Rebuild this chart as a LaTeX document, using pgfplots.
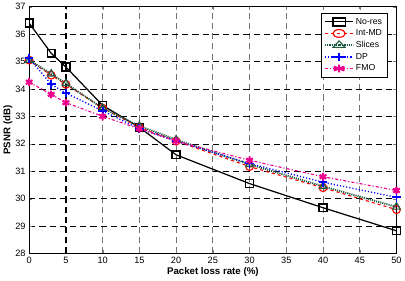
\documentclass[border=0pt]{standalone}
\usepackage{fontspec}
\setmainfont{Liberation Sans}
\usepackage{pgfplots}
\pgfplotsset{compat=1.18}
\definecolor{dkgreen}{RGB}{30,90,65}
\begin{document}
\begin{tikzpicture}
\begin{axis}[
  scale only axis,
  width=360pt, height=242pt,
  xmin=0, xmax=50, ymin=28, ymax=37,
  xtick={0,5,...,50}, ytick={28,...,37},
  /pgf/number format/assume math mode=true,
  tick label style={font=\fontsize{9}{10}\selectfont},
  label style={font=\fontsize{9.5}{11}\selectfont\bfseries},
  xlabel={Packet loss rate (\%)},
  ylabel={PSNR (dB)},
  xlabel style={yshift=3pt},
  ylabel style={yshift=-4pt},
  grid=major,
  x grid style={dash pattern=on 6pt off 4pt, black!55, line width=0.7pt},
  y grid style={dash pattern=on 6pt off 4pt, black, line width=0.6pt},
  tick align=inside,
  major tick length=3pt,
  axis line style={line width=0.7pt},
  legend style={at={(0.975,0.975)}, anchor=north east, draw=black,
    font=\fontsize{8.5}{10}\selectfont, row sep=0pt, inner sep=3pt},
  legend image post style={xscale=1.6},
  legend cell align=left,
  every axis plot/.append style={line width=1.1pt},
]
\addplot[black, solid, line width=1.2pt, mark=square, mark size=3.8pt, mark options={solid, line width=1.5pt}]
  coordinates {(0,36.4) (3,35.3) (5,34.8) (10,33.4) (15,32.6) (20,31.6) (30,30.55) (40,29.67) (50,28.83)};
\addlegendentry{No-res}
\addplot[red, dashed, mark=o, mark size=3.8pt, mark options={solid, line width=1.1pt}]
  coordinates {(0,35.05) (3,34.5) (5,34.17) (10,33.3) (15,32.6) (20,32.1) (30,31.17) (40,30.4) (50,29.6)};
\addlegendentry{Int-MD}
\addplot[dkgreen, densely dotted, line width=1.8pt, mark=triangle, mark size=4.2pt, mark options={solid, line width=1.1pt}]
  coordinates {(0,35.05) (3,34.55) (5,34.2) (10,33.3) (15,32.65) (20,32.15) (30,31.25) (40,30.45) (50,29.7)};
\addlegendentry{Slices}
\addplot[blue, dotted, line width=1.3pt, mark=+, mark size=4.2pt, mark options={solid, line width=1.8pt}]
  coordinates {(0,35.12) (3,34.17) (5,33.85) (10,33.2) (15,32.55) (20,32.1) (30,31.28) (40,30.6) (50,30.05)};
\addlegendentry{DP}
\addplot[magenta, dash dot, mark=asterisk, mark size=3.8pt, mark options={solid, line width=2pt}]
  coordinates {(0,34.25) (3,33.8) (5,33.5) (10,33.0) (15,32.55) (20,32.1) (30,31.4) (40,30.8) (50,30.3)};
\addlegendentry{FMO}
% heavier marker line at 5 %
\addplot[black, dash pattern=on 6pt off 4pt, line width=1.5pt, forget plot] coordinates {(5,28) (5,37)};
\end{axis}
\end{tikzpicture}
\end{document}
